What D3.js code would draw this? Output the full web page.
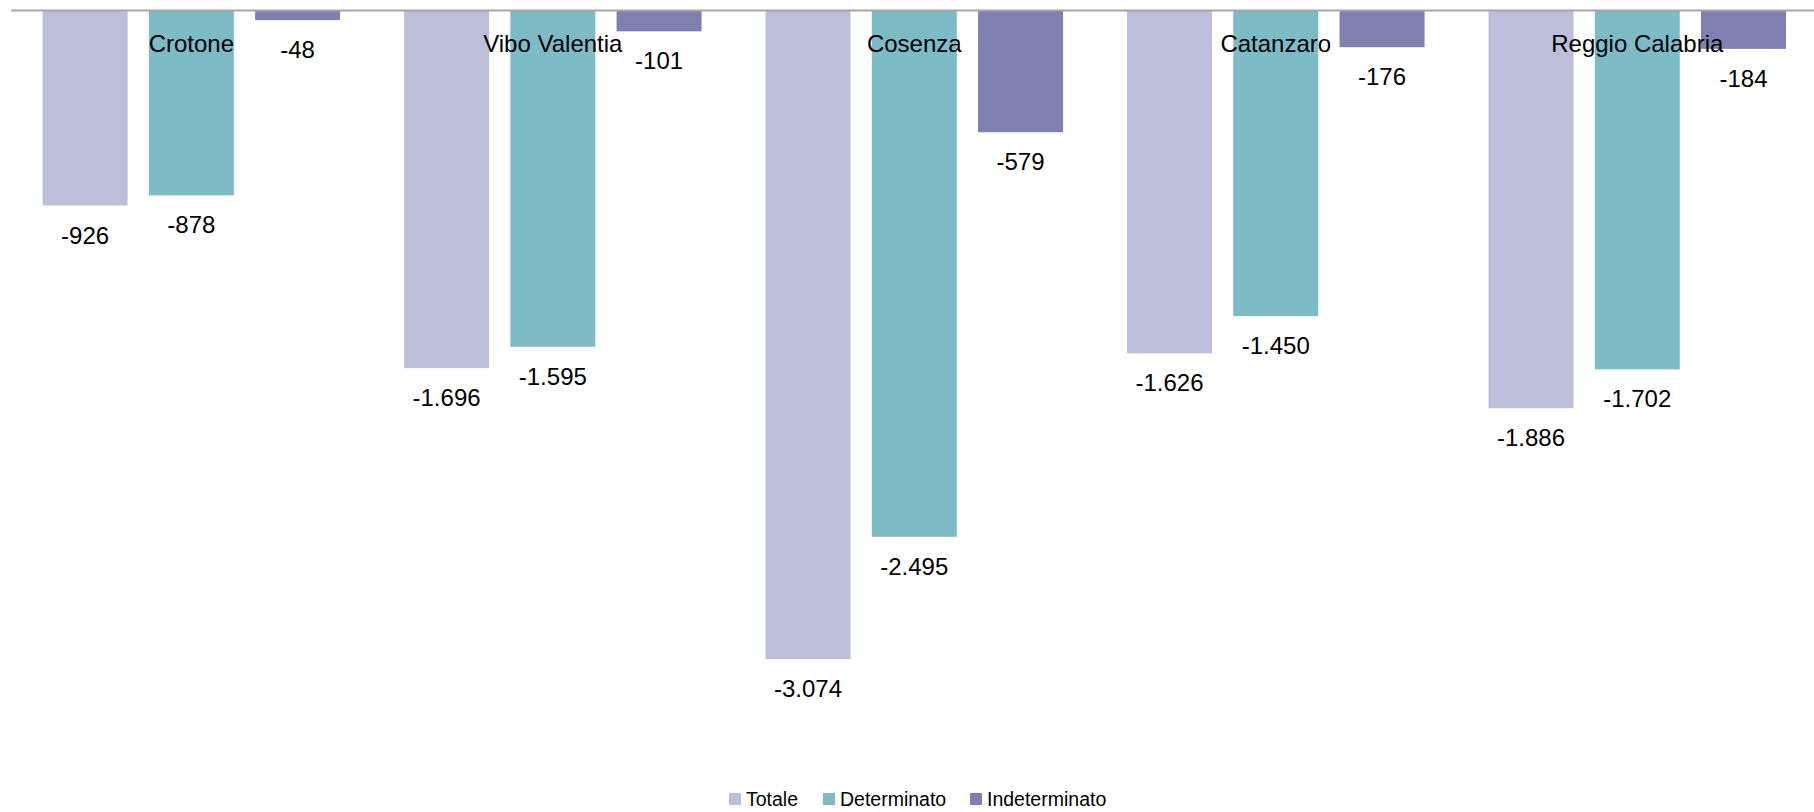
<!DOCTYPE html>
<html>
<head>
<meta charset="utf-8">
<script src="https://cdn.jsdelivr.net/npm/d3@7"></script>
<style>
  html, body { margin: 0; padding: 0; background: #fff; }
  svg { display: block; font-family: "Liberation Sans", Arial, sans-serif; }
</style>
</head>
<body>
<svg id="chart" width="1814" height="812"></svg>
<script>
const categories = ["Crotone", "Vibo Valentia", "Cosenza", "Catanzaro", "Reggio Calabria"];
const seriesNames = ["Totale", "Determinato", "Indeterminato"];
const totale = [-926, -1696, -3074, -1626, -1886];
const determinato = [-878, -1595, -2495, -1450, -1702];
const indeterminato = [-48, -101, -579, -176, -184];
const colors = ["#BDBEDA", "#7DBBC6", "#7F80AF"];

const seriesValues = [totale, determinato, indeterminato];
const rows = categories.map((c, i) => ({
  cat: c,
  vals: seriesNames.map((s, j) => ({ key: s, value: seriesValues[j][i], color: colors[j] }))
}));

const svg = d3.select("#chart");

const x0 = d3.scaleBand().domain(categories).range([10.6, 1818]).paddingInner(0.177).paddingOuter(0.0885);
const x1 = d3.scaleBand().domain(seriesNames).range([0, x0.bandwidth()]).paddingInner(0.2);
const y = d3.scaleLinear().domain([-3500, 0]).range([749, 10]);

const g = svg.append("g");

const groups = g.selectAll("g.cat").data(rows).join("g")
  .attr("class", "cat")
  .attr("transform", d => `translate(${x0(d.cat)},0)`);

groups.selectAll("rect").data(d => d.vals).join("rect")
  .attr("x", d => x1(d.key))
  .attr("width", x1.bandwidth())
  .attr("y", y(0))
  .attr("height", d => y(d.value) - y(0))
  .attr("fill", d => d.color);

const fmt = v => d3.format(",")(v).replace(/,/g, ".").replace("−", "-");

groups.selectAll("text.val").data(d => d.vals).join("text")
  .attr("class", "val")
  .attr("x", d => x1(d.key) + x1.bandwidth() / 2)
  .attr("y", d => y(d.value) + 38)
  .attr("text-anchor", "middle")
  .attr("font-size", 24)
  .attr("fill", "#000")
  .text(d => fmt(d.value));

// category axis at zero line
const axis = d3.axisBottom(x0).tickSize(0).tickSizeOuter(0);
const ax = svg.append("g").attr("transform", `translate(0,${y(0)})`).call(axis);
ax.select(".domain").attr("stroke", "#A6A6A6").attr("stroke-width", 2);
ax.selectAll(".tick text")
  .attr("font-size", 24)
  .attr("font-family", "'Liberation Sans', Arial, sans-serif")
  .attr("fill", "#000")
  .attr("dy", null)
  .attr("y", 42);

// legend
const legendX = [729, 823, 970];
const legend = svg.append("g");
seriesNames.forEach((s, i) => {
  legend.append("rect").attr("x", legendX[i]).attr("y", 793).attr("width", 12).attr("height", 12).attr("fill", colors[i]);
  legend.append("text").attr("x", legendX[i] + 17).attr("y", 806).attr("font-size", 19.5).attr("fill", "#000").text(s);
});
</script>
</body>
</html>
